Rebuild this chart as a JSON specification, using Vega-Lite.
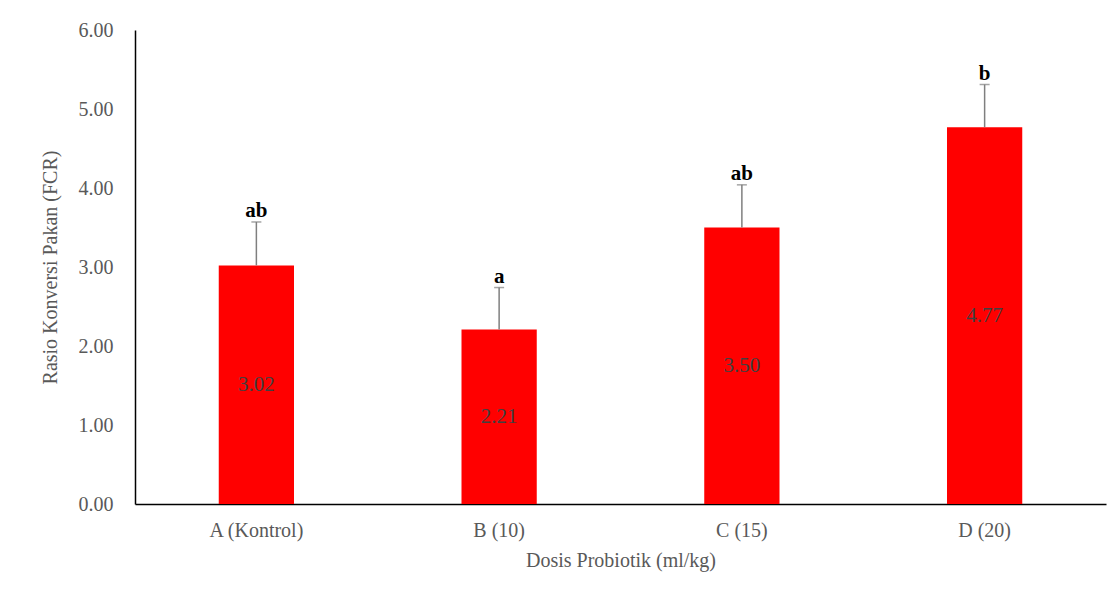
{
  "$schema": "https://vega.github.io/schema/vega-lite/v6.json",
  "width": 971,
  "height": 474,
  "autosize": {"type": "none"},
  "padding": {"left": 135, "top": 30, "right": 12, "bottom": 86},
  "background": "white",
  "config": {
    "view": {"stroke": null},
    "font": "Liberation Serif",
    "axis": {"labelFont": "Liberation Serif", "titleFont": "Liberation Serif", "grid": false, "ticks": false}
  },
  "data": {
    "values": [
      {"group": "A (Kontrol)", "fcr": 3.02, "upper": 3.57, "letter": "ab"},
      {"group": "B (10)", "fcr": 2.21, "upper": 2.74, "letter": "a"},
      {"group": "C (15)", "fcr": 3.50, "upper": 4.04, "letter": "ab"},
      {"group": "D (20)", "fcr": 4.77, "upper": 5.31, "letter": "b"}
    ]
  },
  "encoding": {
    "x": {
      "field": "group", "type": "nominal", "sort": null,
      "scale": {"paddingInner": 0.69, "paddingOuter": 0.345},
      "axis": {
        "title": "Dosis Probiotik (ml/kg)", "labelAngle": 0,
        "labelFontSize": 20, "labelColor": "#595959", "labelPadding": 16,
        "titleFontSize": 20, "titleColor": "#595959", "titleFontWeight": "normal", "titlePadding": 10,
        "domainColor": "#000000", "domainWidth": 1.5
      }
    }
  },
  "layer": [
    {
      "mark": {"type": "bar", "color": "#ff0000"},
      "encoding": {
        "y": {
          "field": "fcr", "type": "quantitative",
          "scale": {"domain": [0, 6], "nice": false},
          "axis": {
            "title": "Rasio Konversi Pakan (FCR)", "values": [0, 1, 2, 3, 4, 5, 6], "format": ".2f",
            "labelFontSize": 20, "labelColor": "#595959", "labelPadding": 22,
            "titleFontSize": 20, "titleColor": "#595959", "titleFontWeight": "normal", "titlePadding": 18,
            "domainColor": "#000000", "domainWidth": 1.5
          }
        }
      }
    },
    {
      "mark": {"type": "rule", "color": "#7f7f7f", "strokeWidth": 1.5},
      "encoding": {
        "y": {"field": "fcr", "type": "quantitative"},
        "y2": {"field": "upper"}
      }
    },
    {
      "mark": {"type": "tick", "color": "#7f7f7f", "thickness": 1.5, "size": 10, "orient": "horizontal"},
      "encoding": {
        "y": {"field": "upper", "type": "quantitative"}
      }
    },
    {
      "mark": {"type": "text", "fontSize": 21, "fontWeight": "bold", "color": "#000000", "baseline": "alphabetic", "dy": -5},
      "encoding": {
        "y": {"field": "upper", "type": "quantitative"},
        "text": {"field": "letter"}
      }
    },
    {
      "transform": [{"calculate": "datum.fcr / 2", "as": "mid"}],
      "mark": {"type": "text", "fontSize": 21, "color": "#404040", "baseline": "middle"},
      "encoding": {
        "y": {"field": "mid", "type": "quantitative"},
        "text": {"field": "fcr", "format": ".2f"}
      }
    }
  ]
}
